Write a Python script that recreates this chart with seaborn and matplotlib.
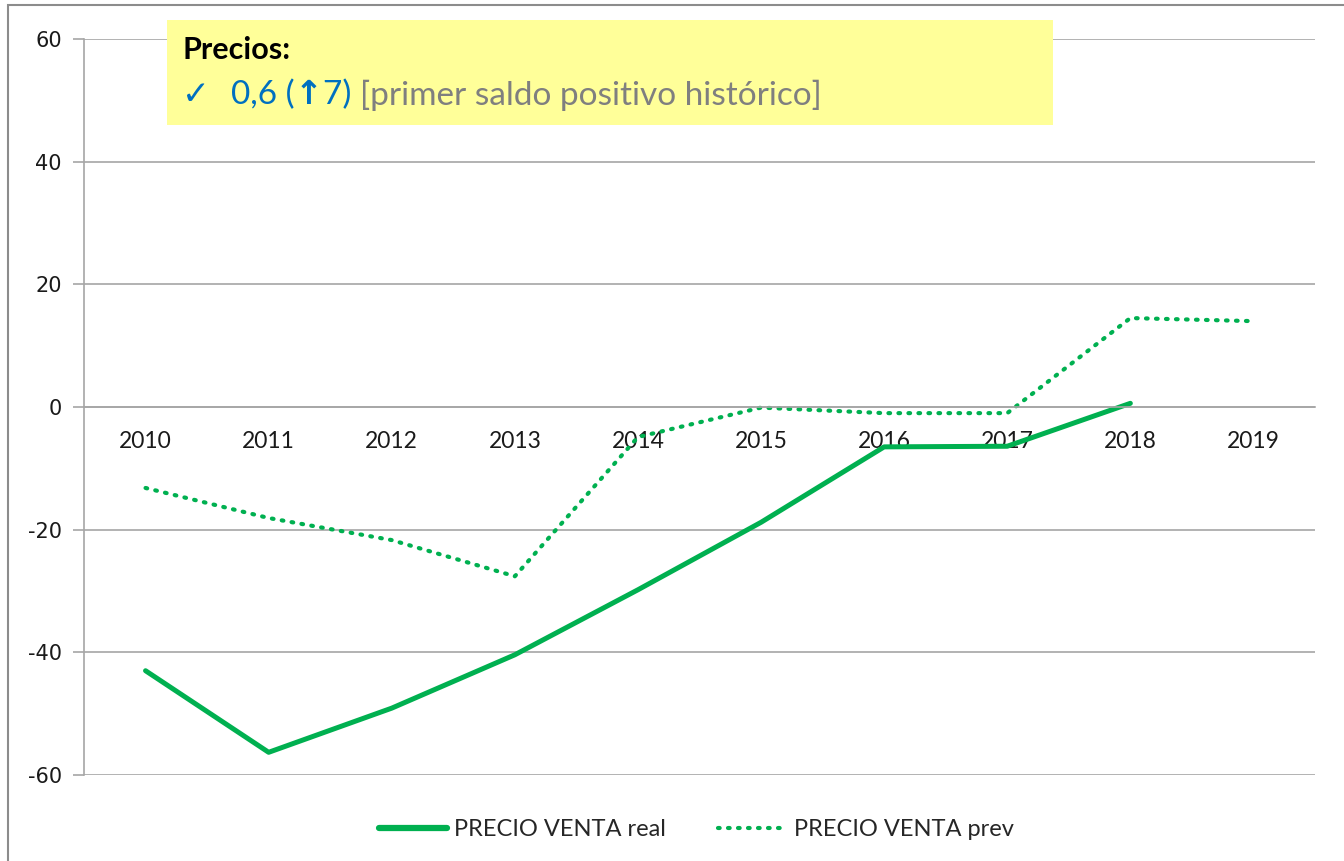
import numpy as np
import pandas as pd
import matplotlib
matplotlib.use("Agg")
import matplotlib.pyplot as plt
import seaborn as sns
from matplotlib.patches import Rectangle
from matplotlib.lines import Line2D

# datos
anios = ["2010", "2011", "2012", "2013", "2014", "2015", "2016", "2017", "2018", "2019"]
precio_real = [-43.0, -56.3, -49.1, -40.4, -29.8, -18.8, -6.5, -6.4, 0.6, np.nan]
precio_prev = [-13.2, -18.1, -21.7, -27.6, -4.9, -0.1, -1.0, -1.0, 14.5, 14.0]
y_ticks = [-60, -40, -20, 0, 20, 40, 60]

VERDE = "#00B050"
GRIS = "#A6A6A6"

sns.set_theme(style="white")
plt.rcParams["font.family"] = ["Lato", "DejaVu Sans"]

df = pd.DataFrame({
    "pos": list(range(len(anios))) * 2,
    "valor": precio_real + precio_prev,
    "serie": ["PRECIO VENTA real"] * len(anios) + ["PRECIO VENTA prev"] * len(anios),
})

fig = plt.figure(figsize=(13.44, 8.61), dpi=100)
ax = fig.add_axes([84 / 1344, 1 - 775 / 861, (1315 - 84) / 1344, (775 - 39) / 861])

sns.lineplot(data=df, x="pos", y="valor", hue="serie", style="serie",
             palette=[VERDE, VERDE], dashes=False, ax=ax, legend=False,
             linewidth=3.6)
lineas = ax.get_lines()
lineas[1].set_linestyle((0, (0.4, 2.0)))
lineas[1].set_dash_capstyle("round")
lineas[1].set_linewidth(3.0)

ax.set_xlim(-0.5, len(anios) - 0.5)
ax.set_ylim(-60, 60)
ax.set_yticks(y_ticks)
ax.set_yticklabels([str(v) for v in y_ticks])
ax.yaxis.grid(True, color=GRIS, linewidth=1.2)
ax.set_axisbelow(True)

# eje de categorias cruzando en 0
ax.spines["bottom"].set_position(("data", 0))
for s in ["top", "right"]:
    ax.spines[s].set_visible(False)
for s in ["bottom", "left"]:
    ax.spines[s].set_color(GRIS)
    ax.spines[s].set_linewidth(1.2)
ax.set_xticks(range(len(anios)))
ax.set_xticklabels(anios, fontsize=16.5, color="#1a1a1a")
ax.set_xticks(np.arange(-0.5, len(anios), 1), minor=True)
ax.tick_params(axis="x", which="major", length=0, pad=17)
ax.tick_params(axis="x", which="minor", length=9, color=GRIS, width=1.2, direction="out")
ax.tick_params(axis="y", length=8, color=GRIS, width=1.2, direction="out", left=True, pad=8,
               labelfontfamily="DejaVu Sans", labelsize=15, labelcolor="#1a1a1a")
ax.set_xlabel("")
ax.set_ylabel("")

# leyenda
h1 = Line2D([], [], color=VERDE, linewidth=4.5, solid_capstyle="round")
h2 = Line2D([], [], color=VERDE, linewidth=3.0, linestyle=(0, (0.4, 2.0)), dash_capstyle="round")
fig.legend([h1, h2], ["PRECIO VENTA real", "PRECIO VENTA prev"], loc="center",
           bbox_to_anchor=(0.518, 1 - 830 / 861), ncol=2, frameon=False,
           fontsize=17, handlelength=2.9, columnspacing=2.2, handletextpad=0.3)

# marco exterior
fig.patches.append(Rectangle((8 / 1344, -0.02), 1.0, 1.0 - 5 / 861 + 0.02,
                             transform=fig.transFigure, fill=False,
                             edgecolor="#8C8C8C", linewidth=1.5))

# recuadro amarillo con comentario
fig.patches.append(Rectangle((167 / 1344, 1 - 125 / 861), (1053 - 167) / 1344, (125 - 20) / 861,
                             transform=fig.transFigure, facecolor="#FFFF99",
                             edgecolor="none", zorder=5))
fig.text(183 / 1344, 1 - 50 / 861, "Precios:", fontsize=22, weight="bold",
         color="black", va="center", zorder=6)

fig.canvas.draw()
render = fig.canvas.get_renderer()
x = 182 / 1344
y = 1 - 95 / 861
trozos = [
    ("\u2713  ", "#0070C0", "normal", ["DejaVu Sans"]),
    ("0,6 (", "#0070C0", "normal", None),
    ("\u2191", "#0070C0", "bold", ["DejaVu Sans"]),
    ("7) ", "#0070C0", "normal", None),
    ("[primer saldo positivo hist\u00f3rico]", "#7F7F7F", "normal", None),
]
for txt, col, peso, fam in trozos:
    kw = {}
    if fam:
        kw["family"] = fam
    t = fig.text(x, y, txt, fontsize=24, color=col, weight=peso, va="center", zorder=6, **kw)
    bb = t.get_window_extent(renderer=render)
    x += bb.width / fig.bbox.width

fig.savefig("out.png", dpi=100)
